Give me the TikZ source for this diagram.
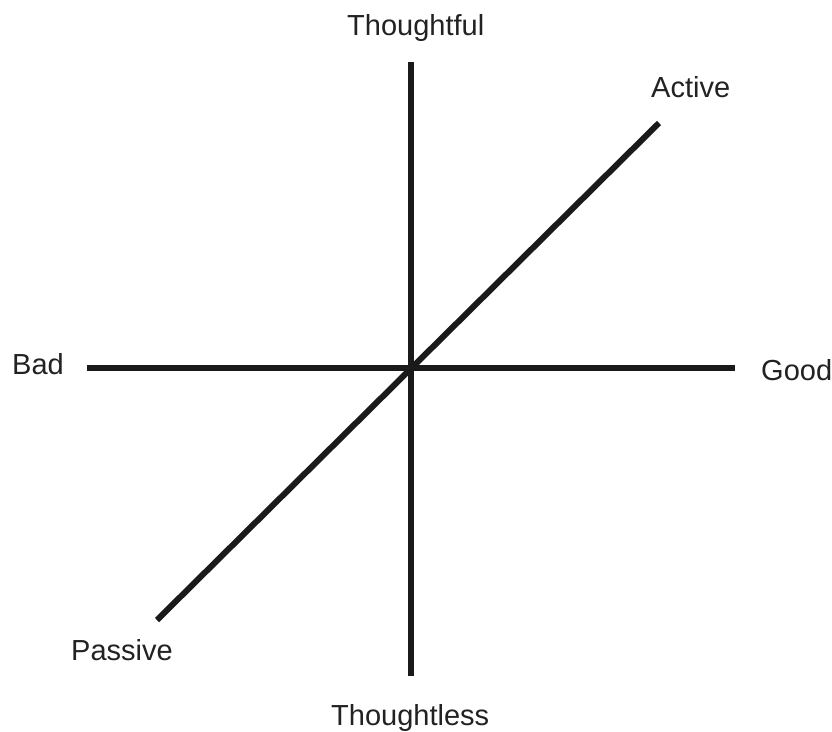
\documentclass[tikz,border=0pt]{standalone}
\usepackage{fontspec}
\setmainfont{Liberation Sans}
\definecolor{ink}{HTML}{1A1A1A}
\definecolor{txt}{HTML}{222222}
\begin{document}
\begin{tikzpicture}[x=1pt,y=-1pt,
  axis/.style={draw=ink,line width=6pt},
  lbl/.style={text=txt,inner sep=0pt,anchor=base west,font=\fontsize{29}{34}\selectfont}]
\useasboundingbox[fill=white] (0,0) rectangle (832,731);
% axis end points
\coordinate (vtop) at (411,62);
\coordinate (vbot) at (411,676);
\coordinate (hleft) at (87,368);
\coordinate (hright) at (735,368);
\coordinate (dlow) at (157,620);
\coordinate (dhigh) at (659,123);
\draw[axis] (vtop) -- (vbot);
\draw[axis] (hleft) -- (hright);
\draw[axis] (dlow) -- (dhigh);
% labels
\node[lbl] (thoughtful) at (347,35) {Thoughtful};
\node[lbl] (active) at (651,97) {Active};
\node[lbl] (bad) at (12,374) {Bad};
\node[lbl] (good) at (761,380) {Good};
\node[lbl] (passive) at (71,660) {Passive};
\node[lbl] (thoughtless) at (331,725) {Thoughtless};
\end{tikzpicture}
\end{document}
